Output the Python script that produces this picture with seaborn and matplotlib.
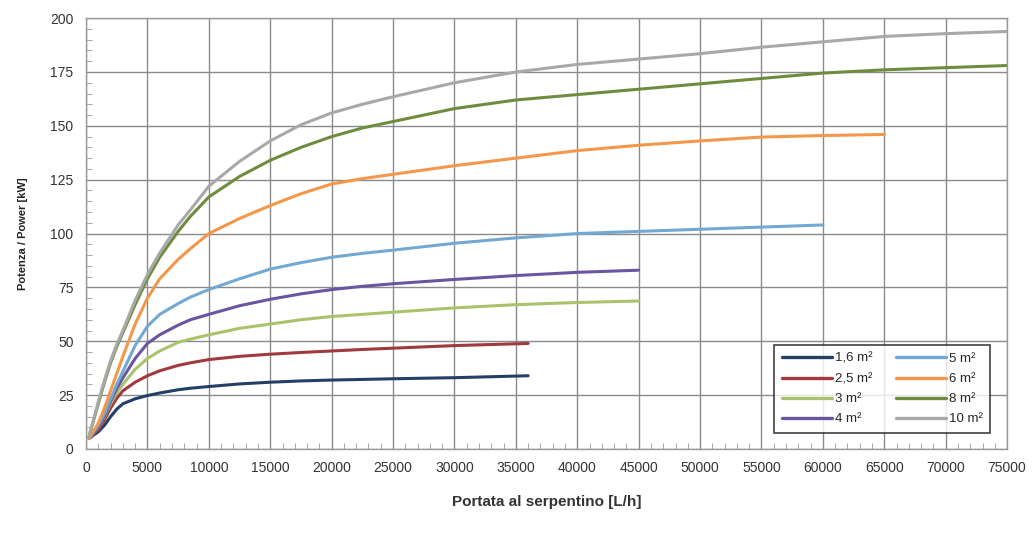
import pandas as pd
import matplotlib
matplotlib.use("Agg")
import matplotlib.pyplot as plt
import seaborn as sns
from matplotlib.ticker import MultipleLocator

# Flow through the coil [L/h]
portata = [250, 1000, 1500, 2000, 2500, 3000, 4000, 5000, 6000, 7500, 8500,
           10000, 12500, 15000, 17500, 20000, 22500, 25000, 30000, 35000,
           40000, 45000, 50000, 55000, 60000, 65000, 70000, 75000]
portata_corta = [250, 1000, 1500, 2000, 2500, 3000, 4000, 5000, 6000, 7500, 8500,
                 10000, 12500, 15000, 17500, 20000, 22500, 25000, 30000, 36000]

# Power [kW] per coil surface
p_1_6 = [5, 8, 11, 15, 18.5, 21, 23.3, 24.8, 26, 27.5, 28.2, 29, 30.2, 31,
         31.6, 32, 32.3, 32.6, 33.1, 34]
p_2_5 = [5, 9, 13.5, 19, 23.5, 27, 31, 34, 36.3, 38.8, 40, 41.5, 43, 44, 44.8,
         45.5, 46.2, 46.8, 48, 49]
p_3 = [5, 10, 15, 21, 26, 30, 37, 42, 45.5, 49.5, 51, 53, 56, 58, 60, 61.5,
       62.5, 63.5, 65.5, 67, 68, 68.7]
p_4 = [5, 10, 15.5, 22, 28, 33, 42, 49, 53, 57.5, 60, 62.5, 66.5, 69.5, 72, 74,
       75.5, 76.7, 78.7, 80.5, 82, 83]
p_5 = [5, 11, 16.5, 23, 30, 36, 48, 57, 62.5, 67.5, 70.5, 74, 79, 83.5, 86.5,
       89, 90.8, 92.3, 95.5, 98, 100, 101, 102, 103, 104]
p_6 = [5, 12, 19, 27, 35, 43, 58, 70, 79, 88, 93, 100, 107, 113, 118.5, 123,
       125.5, 127.5, 131.5, 135, 138.5, 141, 143, 144.8, 145.5, 146]
p_8 = [6, 21, 31, 40, 47.5, 54, 67, 79, 89, 101, 108, 117, 126.5, 134, 140, 145,
       149, 152, 158, 162, 164.5, 167, 169.5, 172, 174.5, 176, 177, 178]
p_10 = [6, 22, 32, 41, 48.5, 55, 69, 81, 91, 104, 111, 122, 133.5, 143, 150.5,
        156, 160, 163.5, 170, 175, 178.5, 181, 183.5, 186.5, 189, 191.5, 192.8,
        193.8]

labels = ["1,6 m²", "2,5 m²", "3 m²", "4 m²", "5 m²", "6 m²", "8 m²", "10 m²"]
colors = ["#243f66", "#a03a3e", "#a8c46a", "#6a55a0",
          "#72a8d2", "#f4974a", "#6f8c3e", "#a8a8a8"]

series = [
    (portata_corta, p_1_6), (portata_corta, p_2_5),
    (portata, p_3), (portata, p_4), (portata, p_5), (portata, p_6),
    (portata, p_8), (portata, p_10),
]

rows = []
for lab, (xs, ys) in zip(labels, series):
    for x, y in zip(xs, ys):
        rows.append({"portata": x, "potenza": y, "superficie": lab})
df = pd.DataFrame(rows)

sns.set_style("white")
plt.rcParams["font.family"] = ["Liberation Sans", "DejaVu Sans"]

fig = plt.figure(figsize=(10.34, 5.33), dpi=100)
ax = fig.add_axes([0.0832, 0.1576, 0.8908, 0.8084])

sns.lineplot(data=df, x="portata", y="potenza", hue="superficie",
             hue_order=labels, palette=dict(zip(labels, colors)),
             linewidth=2.2, ax=ax, sort=False)

ax.set_xlim(0, 75000)
ax.set_ylim(0, 200)
ax.xaxis.set_major_locator(MultipleLocator(5000))
ax.xaxis.set_minor_locator(MultipleLocator(1000))
ax.yaxis.set_major_locator(MultipleLocator(25))
ax.yaxis.set_minor_locator(MultipleLocator(5))
ax.grid(True, which="major", color="#8a8a8a", linewidth=1.0)
ax.set_axisbelow(True)
for s in ax.spines.values():
    s.set_color("#9a9a9a")
    s.set_linewidth(1.0)
ax.tick_params(which="major", direction="out", length=3, color="#9a9a9a",
               labelsize=10, labelcolor="#333333", pad=6)
ax.tick_params(which="minor", direction="in", length=4, color="#9a9a9a")
ax.tick_params(axis="x", which="minor", bottom=True)
ax.tick_params(axis="y", which="minor", left=True)

ax.set_xlabel("Portata al serpentino [L/h]", fontsize=11, fontweight="bold",
              color="#333333", labelpad=14)
ax.set_ylabel("Potenza / Power [kW]", fontsize=8, fontweight="bold",
              color="#222222", labelpad=16)

leg = ax.legend(title=None, ncol=2, loc="lower right",
                bbox_to_anchor=(0.989, 0.021), fontsize=9.5, frameon=True,
                fancybox=False, handlelength=3.8, handletextpad=0.2,
                columnspacing=1.8, labelspacing=0.6, borderpad=0.6)
leg.get_frame().set_edgecolor("#111111")
leg.get_frame().set_linewidth(1.2)
for line in leg.get_lines():
    line.set_linewidth(2.4)

fig.savefig("out.png", dpi=100)
